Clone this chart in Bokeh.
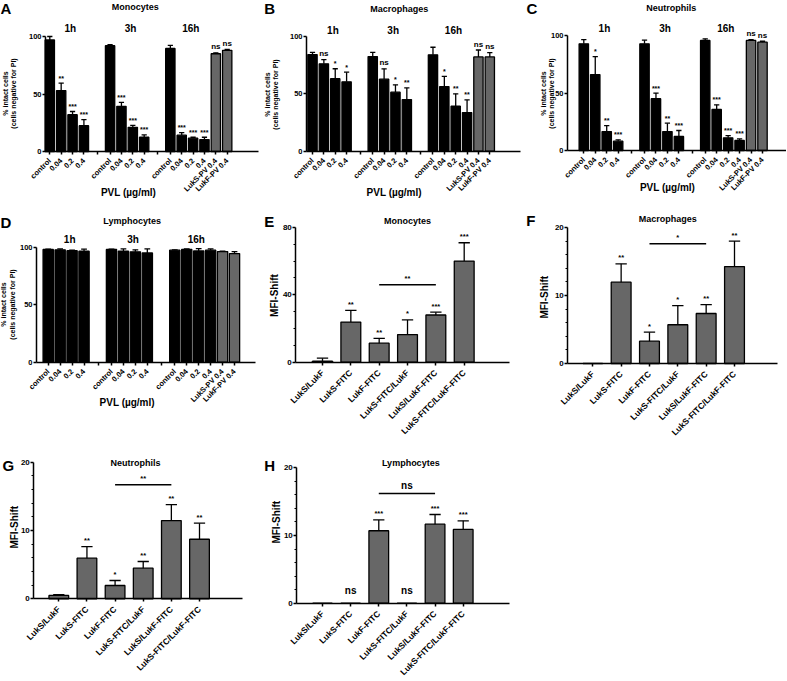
import math
from bokeh.plotting import figure
from bokeh.models import Range1d, FixedTicker, Label
from bokeh.layouts import column, row
from bokeh.embed import file_html
from bokeh.resources import INLINE
from bokeh.core.properties import value

FONT = "Liberation Sans"

# ---------------- data ----------------
pvl_groups = ["1h", "3h", "16h"]
pvl_labels = ["control", "0.04", "0.2", "0.4",
              "control", "0.04", "0.2", "0.4",
              "control", "0.04", "0.2", "0.4", "LukS-PV 0.4", "LukF-PV 0.4"]
pvl_single = [False] * 12 + [True, True]

mono_pct = [97, 53, 32, 22.5, 92, 39.3, 21, 12.4, 89.6, 14.2, 11.6, 10.4, 85, 88]
mono_pct_err = [3, 6.5, 2.8, 5.2, 1, 3.5, 1.8, 2, 2.6, 2.3, 0.8, 2, 0.8, 0.8]
mono_pct_sig = ["", "**", "***", "***", "", "***", "***", "***", "", "***", "***", "***", "ns", "ns"]

macro_pct = [84, 76, 63, 60.3, 82.3, 62.6, 51.3, 44.9, 83.8, 56.2, 39.1, 33.6, 82, 82]
macro_pct_err = [2, 3.7, 8.7, 8.4, 3.7, 9, 6.4, 10.1, 6.6, 8.8, 10.8, 11, 6, 3.8]
macro_pct_sig = ["", "ns", "*", "*", "", "ns", "*", "**", "", "*", "**", "**", "ns", "ns"]

neutro_pct = [92.8, 66, 16.5, 8.1, 92.8, 45, 16.5, 12.2, 95.7, 35.7, 11, 8.7, 95.7, 94.2]
neutro_pct_err = [3.7, 15.7, 5.2, 1.2, 3.1, 4.9, 7.3, 5.2, 1.4, 4, 2, 1.4, 0.8, 0.8]
neutro_pct_sig = ["", "*", "**", "***", "", "***", "**", "***", "", "***", "***", "***", "ns", "ns"]

lympho_pct = [98, 97.7, 97, 96.5, 98, 96.5, 96, 95, 97.4, 98, 96.8, 97.4, 96.2, 94.5]
lympho_pct_err = [0.3, 0.8, 0.5, 1.8, 0.3, 2, 1.7, 3.5, 0.3, 0.5, 2, 1.1, 0.4, 1.7]

mfi_labels = ["LukS/LukF", "LukS-FITC", "LukF-FITC", "LukS-FITC/LukF",
              "LukS/LukF-FITC", "LukS-FITC/LukF-FITC"]

mono_mfi = [0.6, 23.8, 11.3, 16.4, 28, 60]
mono_mfi_err = [1.8, 6.9, 2.8, 8.7, 1.7, 10.9]
mono_mfi_sig = ["", "**", "**", "*", "***", "***"]
mono_bracket = (2, 4, 46, "**")

macro_mfi = [0, 11.96, 3.28, 5.7, 7.35, 14.26]
macro_mfi_err = [0, 2.7, 1.32, 2.8, 1.32, 3.74]
macro_mfi_sig = ["", "**", "*", "*", "**", "**"]
macro_bracket = (2, 4, 17.6, "*")

neutro_mfi = [0.5, 5.95, 1.95, 4.48, 11.46, 8.72]
neutro_mfi_err = [0.1, 1.7, 0.73, 0.98, 2.34, 2.35]
neutro_mfi_sig = ["", "**", "*", "**", "**", "**"]
neutro_bracket = (2, 4, 16.7, "**")

lympho_mfi = [0, 0, 10.7, 0, 11.67, 10.9]
lympho_mfi_err = [0, 0, 1.6, 0, 1.43, 1.27]
lympho_mfi_sig = ["", "ns", "***", "ns", "***", "***"]
lympho_bracket = (2, 4, 16.2, "ns")

# ---------------- layout helpers ----------------
COL_W = [262, 262, 262]
ROW_H = [212, 238, 230]

group_starts = [0, 53, 106]
group_sizes = [4, 4, 6]
pvl_pos = [g + 10 * i for g, n in zip(group_starts, group_sizes) for i in range(n)]
gap_pos = [42, 95]
group_label_x = [g + 18 for g in group_starts]
mfi_pos = list(range(len(mfi_labels)))

GRAY = "#676767"


def make_fig(W, H, fl, fr, ft, fb, xcal, ycal, ytop):
    p0, px0, p1, px1 = xcal
    kx = (px1 - px0) / (p1 - p0)
    v0, py0, v1, py1 = ycal
    ky = (py0 - py1) / (v1 - v0)

    def X(px):
        return p0 + (px - px0) / kx

    def Y(py):
        return v0 + (py0 - py) / ky

    p = figure(width=W, height=H,
               x_range=Range1d(X(0), X(W)), y_range=Range1d(Y(H), Y(0)),
               output_backend="svg", toolbar_location=None,
               min_border=0, min_border_left=0, min_border_right=0,
               min_border_top=0, min_border_bottom=0)
    p.outline_line_color = None
    p.xgrid.visible = False
    p.ygrid.visible = False
    p.background_fill_color = "white"
    p.border_fill_color = "white"
    p.xaxis.fixed_location = Y(fb)
    p.yaxis.fixed_location = X(fl)
    p.xaxis.bounds = (X(fl), X(fr))
    p.yaxis.bounds = (Y(fb), ytop)
    dy_px = 1.0 / ky
    return p, X, Y, dy_px


def style_axes(p, xsize, ysize, xstandoff):
    for ax in p.axis:
        ax.axis_line_color = "black"
        ax.axis_line_width = 1.5
        ax.major_tick_line_color = "black"
        ax.major_tick_line_width = 1.5
        ax.minor_tick_line_color = "black"
        ax.minor_tick_line_width = 1.2
        ax.major_tick_in = 0
        ax.minor_tick_in = 0
        ax.major_label_text_font = FONT
        ax.major_label_text_font_style = "bold"
        ax.major_label_text_color = "black"
    p.xaxis.major_tick_out = 3
    p.xaxis.major_label_text_font_size = xsize
    p.xaxis.major_label_standoff = xstandoff
    p.xaxis.major_label_orientation = math.pi / 4
    p.yaxis.major_tick_out = 3
    p.yaxis.minor_tick_out = 2
    p.yaxis.major_label_text_font_size = ysize
    p.yaxis.major_label_standoff = 1


def add_label(p, x, y, text, size, align="center", angle=0.0, baseline="middle"):
    p.add_layout(Label(x=x, y=y, text=text, text_font=FONT, text_font_style="bold",
                       text_font_size=size, text_align=align, text_baseline=baseline,
                       text_color="black", angle=angle))


def draw_bars(p, xs, vals, errs, width, colors, cap):
    p.vbar(x=xs, top=vals, width=width, fill_color=colors, line_color="black", line_width=1.3)
    ex = [x for x, e in zip(xs, errs) if e > 0]
    eb = [v for v, e in zip(vals, errs) if e > 0]
    et = [v + e for v, e in zip(vals, errs) if e > 0]
    p.segment(x0=ex, y0=eb, x1=ex, y1=et, line_color="black", line_width=1.3)
    p.segment(x0=[x - cap for x in ex], y0=et, x1=[x + cap for x in ex], y1=et,
              line_color="black", line_width=1.3)


def draw_sig(p, xs, vals, errs, sigs, dy, star_size, ns_size, ns_zero_px=0):
    for kind, size in (("star", star_size), ("ns", ns_size)):
        sx, sy, st = [], [], []
        for x, v, e, s in zip(xs, vals, errs, sigs):
            if not s:
                continue
            if (s == "ns") != (kind == "ns"):
                continue
            off = 1.5
            if kind == "ns" and v + e == 0:
                off = ns_zero_px
            sx.append(x)
            sy.append(v + e + off * dy)
            st.append(s)
        if sx:
            p.text(x=sx, y=sy, text=st, text_font=value(FONT), text_font_style="bold",
                   text_font_size=size, text_align="center", text_baseline="bottom",
                   text_color="black")


def pct_panel(W, H, spec, vals, errs, sigs, title, letter, bw):
    p, X, Y, dy = make_fig(W, H, *spec["frame"], spec["xcal"], spec["ycal"], 100)
    style_axes(p, "7.5px", "7.5px", 5)
    p.xaxis.ticker = FixedTicker(ticks=pvl_pos + gap_pos, minor_ticks=[])
    overrides = {pos: lab for pos, lab in zip(pvl_pos, pvl_labels)}
    for g in gap_pos:
        overrides[g] = ""
    p.xaxis.major_label_overrides = overrides
    p.yaxis.ticker = FixedTicker(ticks=[0, 50, 100], minor_ticks=[])
    colors = [GRAY if s else "black" for s in pvl_single]
    draw_bars(p, pvl_pos, vals, errs, bw, colors, bw * 0.28)
    if sigs is not None:
        draw_sig(p, pvl_pos, vals, errs, sigs, dy, "7px", "8px")
    p.text(x=group_label_x, y=[Y(spec["grp_y"])] * 3, text=pvl_groups,
           text_font=value(FONT), text_font_style="bold", text_font_size="10px",
           text_align="center", text_baseline="middle", text_color="black")
    tx, ty = spec["title"]
    add_label(p, X(tx), Y(ty), title, "9px")
    lx, ly = spec["letter"]
    add_label(p, X(lx), Y(ly), letter, "15px", align="left")
    yl1, yl2, ylc = spec["ylab"]
    add_label(p, X(yl1), Y(ylc), "% intact cells", "7px", angle=math.pi / 2)
    add_label(p, X(yl2), Y(ylc), "(cells negative for PI)", "7px", angle=math.pi / 2)
    ax_, ay_ = spec["axlab"]
    add_label(p, X(ax_), Y(ay_), "PVL (µg/ml)", "10px")
    return p


def mfi_panel(W, H, spec, vals, errs, sigs, bracket, title, letter, yticks, yminor, ns_size):
    p, X, Y, dy = make_fig(W, H, *spec["frame"], spec["xcal"], spec["ycal"], yticks[-1])
    style_axes(p, "8.5px", "8px", 6)
    p.xaxis.ticker = FixedTicker(ticks=mfi_pos, minor_ticks=[])
    p.xaxis.major_label_overrides = {pos: lab for pos, lab in zip(mfi_pos, mfi_labels)}
    p.yaxis.ticker = FixedTicker(ticks=yticks, minor_ticks=yminor)
    colors = [GRAY] * len(vals)
    draw_bars(p, mfi_pos, vals, errs, 0.7, colors, 0.2)
    draw_sig(p, mfi_pos, vals, errs, sigs, dy, "7.5px", ns_size, ns_zero_px=7)
    b0, b1, by, bt = bracket
    p.segment(x0=[b0], y0=[by], x1=[b1], y1=[by], line_color="black", line_width=1.5)
    bsize = ns_size if bt == "ns" else "7.5px"
    boff = 3 if bt == "ns" else 1.5
    p.text(x=[(b0 + b1) / 2], y=[by + boff * dy], text=[bt], text_font=value(FONT),
           text_font_style="bold", text_font_size=bsize, text_align="center",
           text_baseline="bottom", text_color="black")
    tx, ty = spec["title"]
    add_label(p, X(tx), Y(ty), title, "9px")
    lx, ly = spec["letter"]
    add_label(p, X(lx), Y(ly), letter, "15px", align="left")
    mx, my = spec["ylab"]
    add_label(p, X(mx), Y(my), "MFI-Shift", "10px", angle=math.pi / 2)
    return p


spec_A = dict(frame=(45, 258, 18, 151), xcal=(0, 49.3, 156, 226.7), ycal=(0, 151, 100, 36),
              grp_y=28, title=(134.7, 6.7), letter=(0, 8.3), ylab=(5, 12.7, 93), axlab=(128, 192))
spec_B = dict(frame=(44, 258, 18, 150.7), xcal=(0, 50, 156, 227.3), ycal=(0, 150.7, 100, 35.7),
              grp_y=30, title=(136.7, 8.3), letter=(1.7, 8), ylab=(5, 13.3, 94), axlab=(131.7, 191.7))
spec_C = dict(frame=(43, 261.7, 18, 150), xcal=(0, 59.3, 156, 238), ycal=(0, 150, 100, 35),
              grp_y=28.3, title=(146.7, 7.3), letter=(2, 8), ylab=(19, 27, 93), axlab=(143, 186.7))
spec_D = dict(frame=(36, 255, 18, 149.7), xcal=(0, 47.7, 156, 234), ycal=(0, 149.7, 100, 34.7),
              grp_y=27, title=(131.7, 8), letter=(0, 9.7), ylab=(3.3, 11.7, 92), axlab=(126.7, 189.7))

spec_E = dict(frame=(33.3, 246.7, 14.9, 149.7), xcal=(0, 60, 5, 201.7), ycal=(0, 149.7, 80, 14.9),
              title=(145, 8), letter=(1.7, 9), ylab=(12.3, 83))
spec_F = dict(frame=(43.3, 253.3, 15, 151), xcal=(0, 68.3, 5, 210), ycal=(0, 151, 20, 15),
              title=(143.3, 6.3), letter=(1.7, 8), ylab=(20, 84.7))
spec_G = dict(frame=(33.3, 241.7, 11.7, 148.3), xcal=(0, 58.3, 5, 199), ycal=(0, 148.3, 20, 11.7),
              title=(135, 12.7), letter=(2, 15), ylab=(14, 76.7))
spec_H = dict(frame=(34.3, 246.7, 17.3, 152.7), xcal=(0, 60, 5, 200.7), ycal=(0, 152.7, 20, 17.3),
              title=(148.3, 12.7), letter=(1.7, 15), ylab=(14, 71.7))

pA = pct_panel(COL_W[0], ROW_H[0], spec_A, mono_pct, mono_pct_err, mono_pct_sig, "Monocytes", "A", 8.2)
pB = pct_panel(COL_W[1], ROW_H[0], spec_B, macro_pct, macro_pct_err, macro_pct_sig, "Macrophages", "B", 8.2)
pC = pct_panel(COL_W[2], ROW_H[0], spec_C, neutro_pct, neutro_pct_err, neutro_pct_sig, "Neutrophils", "C", 8.2)
pD = pct_panel(COL_W[0], ROW_H[1], spec_D, lympho_pct, lympho_pct_err, None, "Lymphocytes", "D", 8.6)

pE = mfi_panel(COL_W[1], ROW_H[1], spec_E, mono_mfi, mono_mfi_err, mono_mfi_sig, mono_bracket,
               "Monocytes", "E", [0, 40, 80], [10, 20, 30, 50, 60, 70], "7.5px")
pF = mfi_panel(COL_W[2], ROW_H[1], spec_F, macro_mfi, macro_mfi_err, macro_mfi_sig, macro_bracket,
               "Macrophages", "F", [0, 10, 20], [2, 4, 6, 8, 12, 14, 16, 18], "7.5px")
pG = mfi_panel(COL_W[0], ROW_H[2], spec_G, neutro_mfi, neutro_mfi_err, neutro_mfi_sig, neutro_bracket,
               "Neutrophils", "G", [0, 10, 20], [2, 4, 6, 8, 12, 14, 16, 18], "7.5px")
pH = mfi_panel(COL_W[1], ROW_H[2], spec_H, lympho_mfi, lympho_mfi_err, lympho_mfi_sig, lympho_bracket,
               "Lymphocytes", "H", [0, 10, 20], [2, 4, 6, 8, 12, 14, 16, 18], "10px")

layout = column(row(pA, pB, pC, spacing=0), row(pD, pE, pF, spacing=0), row(pG, pH, spacing=0), spacing=0)

with open("out.html", "w") as f:
    f.write(file_html(layout, INLINE))
